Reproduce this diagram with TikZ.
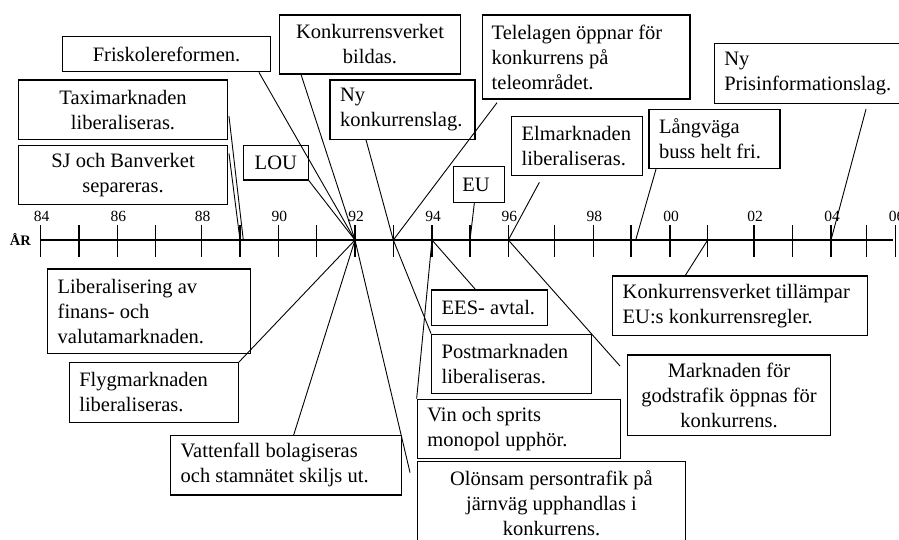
\documentclass[tikz,border=0pt]{standalone}
\usepackage{fontspec}
\setmainfont{Liberation Serif}
\usetikzlibrary{calc}
\hyphenpenalty=10000
\exhyphenpenalty=10000
\begin{document}
\begin{tikzpicture}[x=1pt,y=-1pt,
  bx/.style={draw, line width=1.3pt, inner sep=0pt, inner xsep=10pt,
    font=\fontsize{20.5}{25}\selectfont, align=flush left},
  ctr/.style={align=flush center},
  conn/.style={line width=0.9pt},
  tick/.style={line width=1.3pt},
  yr/.style={font=\fontsize{15.5}{16}\selectfont, anchor=base, inner sep=0pt}
]
\useasboundingbox (0,0) rectangle (899,539);
\fill[white] (0,0) rectangle (899,539);

% axis
\coordinate (axL) at (40.7,240);
\coordinate (axR) at (893,240);
\draw[line width=1.6pt] (axL) -- (axR);
\foreach \n/\xx in {84/40.7,85/79,86/117.3,87/155.7,88/201.7,89/240,90/278.3,91/316.7,92/355,93/393.3,94/432,95/470,96/508.3,97/554.3,98/593.3,99/631,00/670,01/707.7,02/754,03/792.7,04/831,05/866.7,06/895.7}{
  \coordinate (t\n) at (\xx,240);
  \draw[tick] ($(t\n)+(0,-15)$) -- ($(t\n)+(0,17)$);
}
\foreach \n/\xx in {84/40.7,86/117.3,88/201.7,90/278.3,92/355,94/432,96/508.3,98/593.3,00/670,02/754,04/831,06/895.7}{
  \node[yr] (l\n) at (\xx+1,221.7) {\n};
}
\node[font=\fontsize{14.5}{15}\selectfont\bfseries, anchor=base, inner sep=0pt] (ar) at (20.3,245) {ÅR};
\coordinate (c89a) at (243.3,240);
\coordinate (c99a) at (635.7,240);

% boxes above
\node[bx,ctr, minimum width=208.4, minimum height=35, text width=188.4] (fr) at (166.5,54.2) {Friskolereformen.};
\node[bx,ctr, minimum width=181.4, minimum height=59, text width=161.4] (kb) at (370,44.5) {Konkurrensverket\\bildas.};
\node[bx,ctr, minimum width=209.4, minimum height=59.3, text width=189.4] (taxi) at (123,109.7) {Taximarknaden\\liberaliseras.};
\node[bx,ctr, minimum width=209.4, minimum height=59, text width=189.4] (sj) at (123,174.8) {SJ och Banverket\\separeras.};
\node[bx,ctr, inner xsep=5pt, minimum width=65, minimum height=34.7, text width=55] (lou) at (275.8,162.7) {LOU};
\node[bx, minimum width=145, minimum height=59.3, text width=125] (nk) at (402.5,109.7) {Ny\\konkurrenslag.};
\node[bx, inner xsep=9pt, minimum width=207.3, minimum height=84, text width=189.3] (tel) at (586.35,57) {Telelagen öppnar för\\konkurrens på\\teleområdet.};
\node[bx, minimum width=195.7, minimum height=60, text width=175.7] (pi) at (812.15,73.3) {Ny\\Prisinformationslag.};
\node[bx, minimum width=130.6, minimum height=59, text width=110.6] (el) at (577,146.2) {Elmarknaden\\liberaliseras.};
\node[bx, minimum width=131, minimum height=59, text width=111] (lv) at (714.5,138.8) {Långväga\\buss helt fri.};
\node[bx, inner xsep=9pt, minimum width=51, minimum height=35.6, text width=33] (eu) at (478.8,184.5) {EU};

% boxes below
\node[bx, minimum width=203, minimum height=84.3, text width=183] (lib) at (149.2,311.2) {Liberalisering av\\finans- och\\valutamarknaden.};
\node[bx, minimum width=169, minimum height=59.6, text width=149] (fl) at (153.8,392.5) {Flygmarknaden\\liberaliseras.};
\node[bx, minimum width=231, minimum height=59.3, text width=211] (vf) at (286.2,465.35) {Vattenfall bolagiseras\\och stamnätet skiljs ut.};
\node[bx, minimum width=116, minimum height=35.7, text width=96] (ees) at (489.7,307.85) {EES- avtal.};
\node[bx, minimum width=160, minimum height=59, text width=140] (pm) at (511.7,363.8) {Postmarknaden\\liberaliseras.};
\node[bx, minimum width=203, minimum height=59, text width=183] (vs) at (518.8,428.8) {Vin och sprits\\monopol upphör.};
\node[bx,ctr, minimum width=268.4, minimum height=82.6, text width=248.4] (ol) at (551.5,503) {Olönsam persontrafik på\\järnväg upphandlas i\\konkurrens.};
\node[bx, minimum width=254.6, minimum height=59.7, text width=234.6] (kt) at (740,305.85) {Konkurrensverket tillämpar\\EU:s konkurrensregler.};
\node[bx,ctr, minimum width=203.4, minimum height=80.3, text width=183.4] (mg) at (729,395.15) {Marknaden för\\godstrafik öppnas för\\konkurrens.};

% connectors
\draw[conn] ($(fr.south east)+(-12.4,0)$) -- (t92);
\draw[conn] ($(kb.south west)+(22.4,0)$) -- (t92);
\draw[conn] (lou.south east) -- (t92);
\draw[conn] ($(taxi.east)+(0.6,6.3)$) -- (c89a);
\draw[conn] ($(sj.east)+(0.6,-21.5)$) -- (t89);
\draw[conn] ($(nk.south west)+(36.7,0)$) -- (t93);
\draw[conn] ($(tel.south west)+(15,3)$) -- (t93);
\draw[conn] ($(pi.south west)+(152.4,5)$) -- (t04);
\draw[conn] ($(el.south west)+(28.3,6)$) -- (t96);
\draw[conn] ($(lv.south west)+(7.7,0)$) -- (c99a);
\draw[conn] ($(eu.south west)+(21.7,0)$) -- (t95);
\draw[conn] ($(kt.north west)+(73.3,0)$) -- (t01);
\draw[conn] (t96) -- ($(mg.north west)+(-6.6,11.7)$);
\draw[conn] (t94) -- ($(ees.north west)+(44.3,0)$);
\draw[conn] (t93) -- (pm.north west);
\draw[conn] (t94) -- (vs.north west);
\draw[conn] (t92) -- ($(ol.north west)+(-6.6,11.6)$);
\draw[conn] (t92) -- ($(vf.north west)+(123.6,0)$);
\draw[conn] (t92) -- (fl.north east);
\end{tikzpicture}
\end{document}
